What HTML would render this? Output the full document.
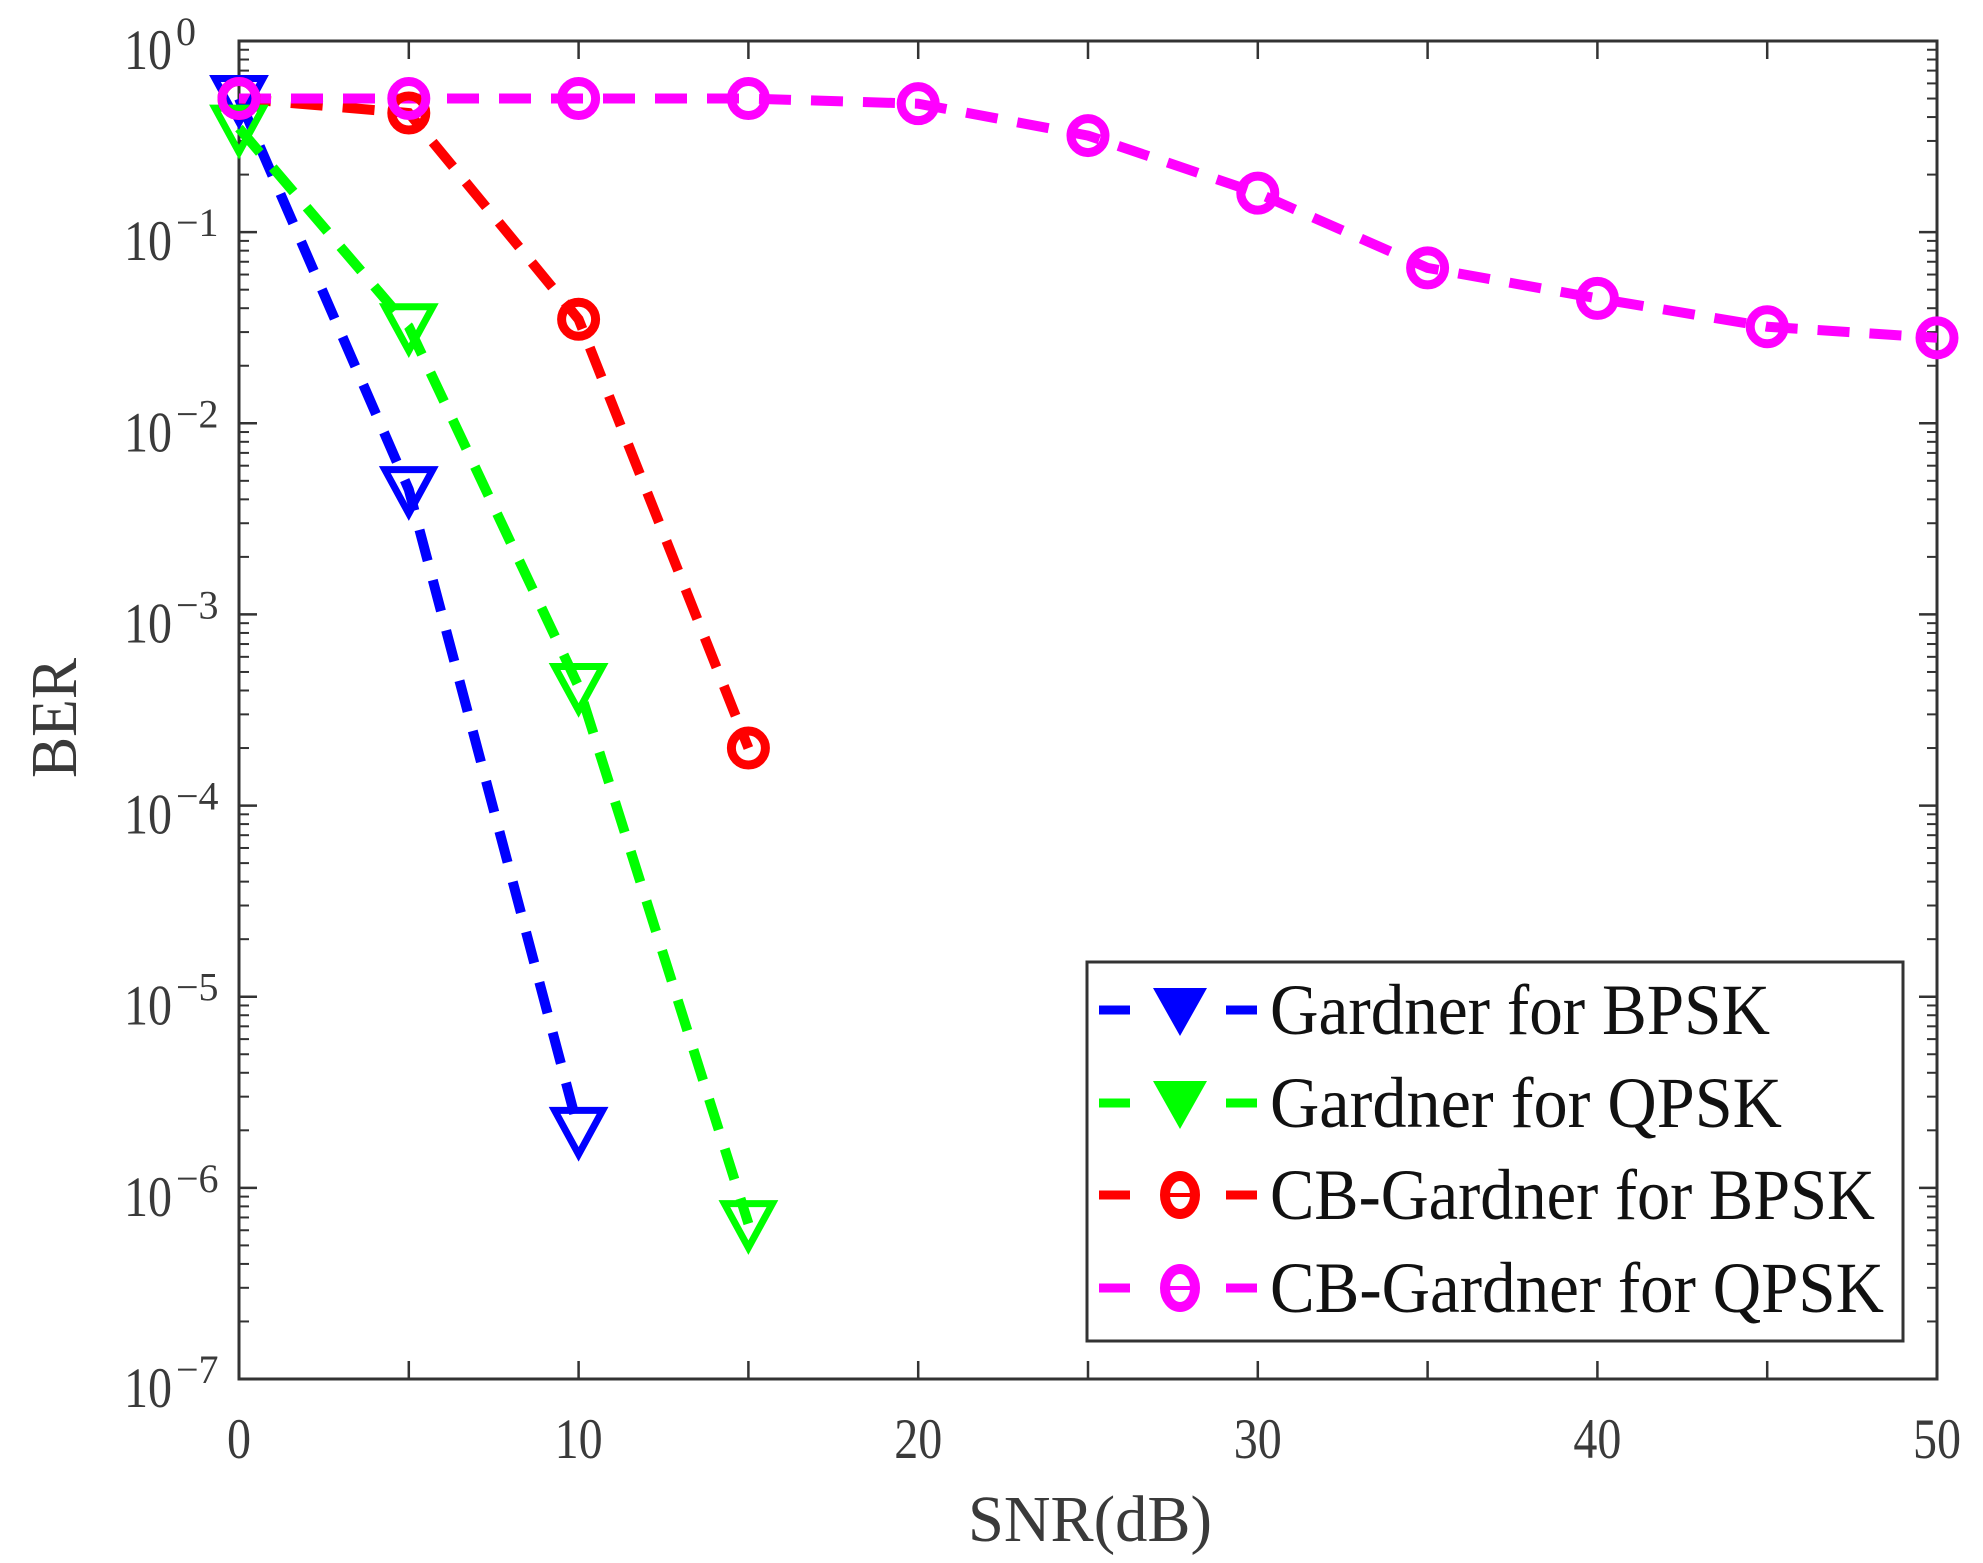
<!DOCTYPE html>
<html><head><meta charset="utf-8"><style>
html,body{margin:0;padding:0;background:#fff;}
svg{display:block;}
text{font-family:"Liberation Serif",serif;fill:#3a3a3a;}
</style></head><body>
<svg id="s" width="1983" height="1563" xmlns="http://www.w3.org/2000/svg"></svg>
<script>
const s=document.getElementById('s');
const L=239,R=1937,T=41,B=1379,D=(B-T)/7;
const X=v=>L+v*(R-L)/50, Y=v=>T-Math.log10(v)*D;
let h='';
h+=`<rect x="${L}" y="${T}" width="${R-L}" height="${B-T}" fill="none" stroke="#333" stroke-width="3"/>`;
for(let v=0;v<=50;v+=5){const x=X(v);h+=`<line x1="${x}" y1="${B}" x2="${x}" y2="${B-18}" stroke="#333" stroke-width="2.5"/><line x1="${x}" y1="${T}" x2="${x}" y2="${T+18}" stroke="#333" stroke-width="2.5"/>`;}
for(let v=0;v<=50;v+=10){const w=v==0?24:48;h+=`<text x="${X(v)}" y="1458" font-size="57" text-anchor="middle" textLength="${w}" lengthAdjust="spacingAndGlyphs">${v}</text>`;}
for(let e=0;e>=-7;e--){const y=Y(Math.pow(10,e));
h+=`<line x1="${L}" y1="${y}" x2="${L+18}" y2="${y}" stroke="#333" stroke-width="2.5"/><line x1="${R}" y1="${y}" x2="${R-18}" y2="${y}" stroke="#333" stroke-width="2.5"/>`;
h+=`<text x="124" y="${y+28}" font-size="57" textLength="48" lengthAdjust="spacingAndGlyphs">10</text><text x="176" y="${y+4}" font-size="40">${e==0?'0':'\u2212'+(-e)}</text>`;
if(e>-7)for(let m=2;m<=9;m++){const yy=Y(m*Math.pow(10,e-1));
h+=`<line x1="${L}" y1="${yy}" x2="${L+10}" y2="${yy}" stroke="#333" stroke-width="2"/><line x1="${R}" y1="${yy}" x2="${R-10}" y2="${yy}" stroke="#333" stroke-width="2"/>`;}}
h+=`<text x="1090" y="1541" font-size="66" text-anchor="middle" textLength="244" lengthAdjust="spacingAndGlyphs">SNR(dB)</text>`;
h+=`<text transform="translate(76,718) rotate(-90)" font-size="66" text-anchor="middle" textLength="120" lengthAdjust="spacingAndGlyphs">BER</text>`;
const ser=[
['#0000ff','tri',[[0,0.5],[5,4.5e-3],[10,2e-6]]],
['#00ff00','tri',[[0,0.35],[5,0.032],[10,4.2e-4],[15,6.5e-7]]],
['#ff0000','cir',[[0,0.5],[5,0.42],[10,0.035],[15,2e-4]]],
['#ff00ff','cir',[[0,0.5],[5,0.5],[10,0.5],[15,0.5],[20,0.47],[25,0.32],[30,0.16],[35,0.065],[40,0.045],[45,0.032],[50,0.028]]]];
function mk(c,t,x,y){if(t=='tri')return `<polygon points="${x-24},${y-20} ${x+24},${y-20} ${x},${y+24}" fill="none" stroke="${c}" stroke-width="7" stroke-linejoin="miter"/>`;
return `<circle cx="${x}" cy="${y}" r="17" fill="none" stroke="${c}" stroke-width="9"/>`;}
for(const [c,t,p] of ser){h+=`<polyline points="${p.map(q=>X(q[0])+','+Y(q[1])).join(' ')}" fill="none" stroke="${c}" stroke-width="10" stroke-dasharray="32 20"/>`;}
for(const [c,t,p] of ser){for(const q of p)h+=mk(c,t,X(q[0]),Y(q[1]));}
h+=`<rect x="1087" y="962" width="816" height="379" fill="#fff" stroke="#333" stroke-width="3"/>`;
const names=['Gardner for BPSK','Gardner for QPSK','CB-Gardner for BPSK','CB-Gardner for QPSK'];
const widths=[500,512,605,614];
const rows=[1010,1103,1195,1288];
ser.forEach(([c,t],i)=>{const y=rows[i];
h+=`<line x1="1099" y1="${y}" x2="1130" y2="${y}" stroke="${c}" stroke-width="9"/><line x1="1226" y1="${y}" x2="1257" y2="${y}" stroke="${c}" stroke-width="9"/>`;
if(t=='tri')h+=`<polygon points="1153,${y-22} 1207,${y-22} 1180,${y+26}" fill="${c}"/>`;
else h+=`<ellipse cx="1180" cy="${y}" rx="15" ry="19" fill="none" stroke="${c}" stroke-width="10"/><line x1="1170" y1="${y}" x2="1190" y2="${y}" stroke="${c}" stroke-width="4"/>`;
h+=`<text x="1270" y="${y+24}" font-size="72" style="fill:#111" textLength="${widths[i]}" lengthAdjust="spacingAndGlyphs">${names[i]}</text>`;});
s.innerHTML=h;
</script>
</body></html>
